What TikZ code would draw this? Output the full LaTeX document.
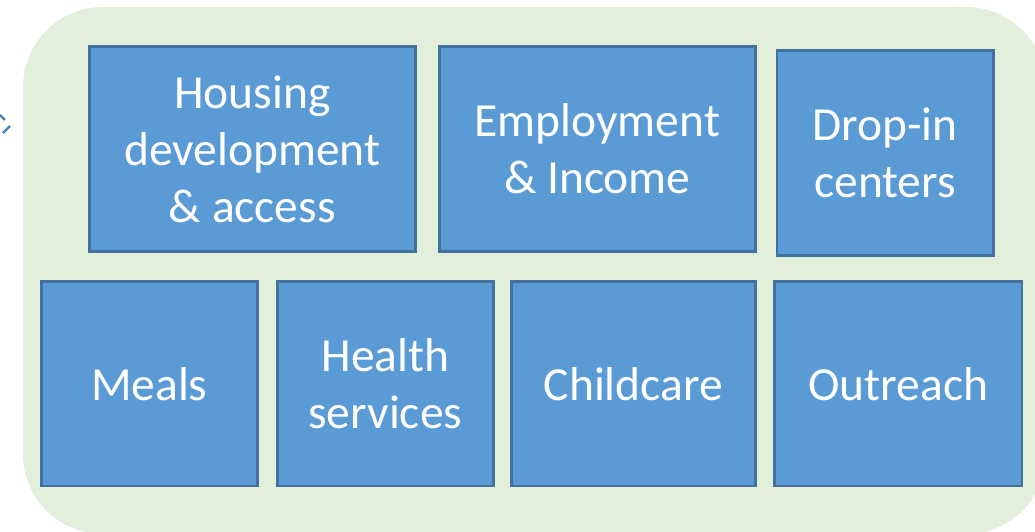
\documentclass[tikz,border=0pt]{standalone}
\usepackage{fontspec}
\setmainfont{Carlito}
\definecolor{bggreen}{HTML}{E2EFDA}
\definecolor{boxfill}{HTML}{5B9BD5}
\definecolor{boxline}{HTML}{41719C}
\definecolor{chev}{HTML}{4A7EBB}
\tikzset{
  item/.style={draw=boxline, fill=boxfill, line width=2.8pt, rectangle,
    inner sep=0pt, align=center, text=white,
    font=\fontsize{47.5}{57}\selectfont, minimum height=204.4pt},
}
\begin{document}
\begin{tikzpicture}[x=1pt,y=-1pt]
\clip (0,0) rectangle (1035,532);
\fill[bggreen, rounded corners=80pt] (23,7) rectangle (1046,534);
\draw[chev, line width=2.4pt] (0,115) -- (5,120);
\draw[chev, line width=2.4pt] (10,126) -- (3,133);
\node[item, minimum width=325.9pt] (housing) at (252.3,149.1) {Housing\\development\\\& access};
\node[item, minimum width=315.9pt] (employment) at (597.3,149.1) {Employment\\\& Income};
\node[item, minimum width=216.4pt] (dropin) at (885.1,153.1) {Drop-in\\centers};
\node[item, minimum width=215.9pt] (meals) at (149.3,383.7) {Meals};
\node[item, minimum width=215.9pt] (health) at (385.3,383.7) {Health\\services};
\node[item, minimum width=243.9pt] (childcare) at (633.3,383.7) {Childcare};
\node[item, minimum width=247.2pt] (outreach) at (898.3,383.7) {Outreach};
\end{tikzpicture}
\end{document}
